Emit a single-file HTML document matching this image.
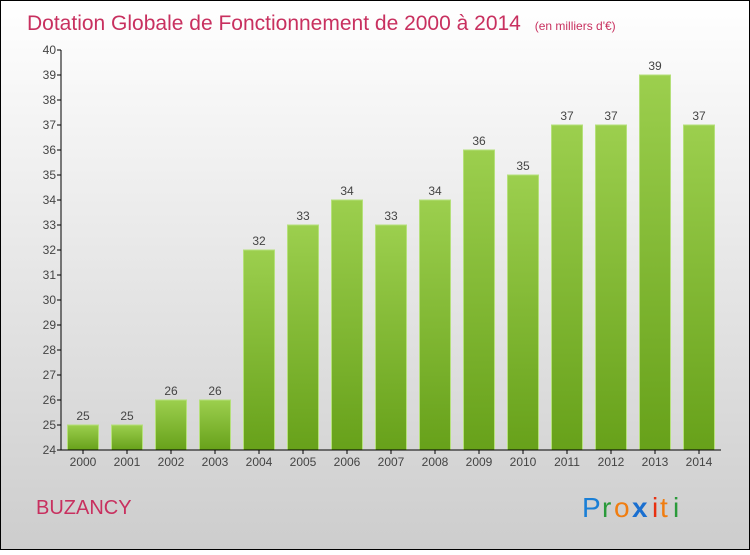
<!DOCTYPE html>
<html><head><meta charset="utf-8"><style>
body{margin:0}
#c{width:750px;height:550px;position:relative;font-family:"Liberation Sans",sans-serif}
</style></head><body>
<div id="c">
<svg width="750" height="550" xmlns="http://www.w3.org/2000/svg" id="svg">
<defs>
<linearGradient id="bg" x1="0" y1="0" x2="0" y2="1"><stop offset="0" stop-color="#ffffff"/><stop offset="1" stop-color="#cdcdcd"/></linearGradient>
<linearGradient id="bar" x1="0" y1="0" x2="0" y2="1"><stop offset="0" stop-color="#9ccf4e"/><stop offset="1" stop-color="#67a11a"/></linearGradient>
</defs>
<rect x="0.5" y="0.5" width="749" height="549" fill="url(#bg)" stroke="#000"/>
<text x="27" y="30" font-size="21" fill="#c8305f">Dotation Globale de Fonctionnement de 2000 à 2014 <tspan font-size="12" dx="8">(en milliers d'€)</tspan></text>
<g id="yaxis"></g>
<g id="bars"></g>
<g id="xaxis"></g>
<text x="36" y="514" font-size="20" fill="#c8305f">BUZANCY</text>
<g font-size="28" font-family="'Liberation Sans',sans-serif">
<text x="582" y="517" fill="#1a7fd6">P</text><text x="602" y="517" fill="#2a9a3a">r</text><text x="614" y="517" fill="#f07d10">o</text><text x="632" y="517" fill="#1a6fd0" font-weight="bold">x</text><text x="652" y="517" fill="#e83010">i</text><text x="660" y="517" fill="#f07d10">t</text><text x="673" y="517" fill="#2a9a3a">i</text>
</g>
</svg>
</div>
<script>
const years=["2000","2001","2002","2003","2004","2005","2006","2007","2008","2009","2010","2011","2012","2013","2014"];
const values=[25,25,26,26,32,33,34,33,34,36,35,37,37,39,37];
const yTicks=[24,25,26,27,28,29,30,31,32,33,34,35,36,37,38,39,40];
const NS="http://www.w3.org/2000/svg";
const y0=450,y1=50,vmin=24,vmax=40,xL=61,xR=721;
const ys=v=>y0-(v-vmin)/(vmax-vmin)*(y0-y1);
const step=(xR-xL)/years.length;
const xc=i=>xL+step*(i+0.5);
function mk(t,a,p){const e=document.createElementNS(NS,t);for(const k in a)e.setAttribute(k,a[k]);p.appendChild(e);return e;}
const ya=document.getElementById('yaxis'),ba=document.getElementById('bars'),xa=document.getElementById('xaxis');
let l=mk('line',{x1:xL,y1:y1,x2:xL,y2:y0,stroke:'#000'},ya);


yTicks.forEach(v=>{
 const t=mk('line',{x1:xL-4,x2:xL,y1:ys(v),y2:ys(v),stroke:'#000'},ya);
 
 
 const tx=mk('text',{x:xL-5,y:ys(v)+4,'font-size':12,fill:'#444','text-anchor':'end'},ya);
 tx.textContent=v;
 
 
});
values.forEach((v,i)=>{
 const r=mk('rect',{x:xc(i)-15.5,y:ys(v),width:31,height:y0-ys(v),fill:'url(#bar)',stroke:'#b5e07a','stroke-width':1},ba);
 
 
 const t=mk('text',{x:xc(i),y:ys(v)-5,'font-size':12,fill:'#444','text-anchor':'middle'},ba);
 t.textContent=v;
 
 
});
l=mk('line',{x1:xL,y1:y0,x2:xR,y2:y0,stroke:'#000'},xa);


years.forEach((y,i)=>{
 const t=mk('line',{x1:xc(i),x2:xc(i),y1:y0,y2:y0+4,stroke:'#000'},xa);
 
 
 const tx=mk('text',{x:xc(i),y:y0+16,'font-size':12,fill:'#444','text-anchor':'middle'},xa);
 tx.textContent=y;
 
 
});
</script>
</body></html>
